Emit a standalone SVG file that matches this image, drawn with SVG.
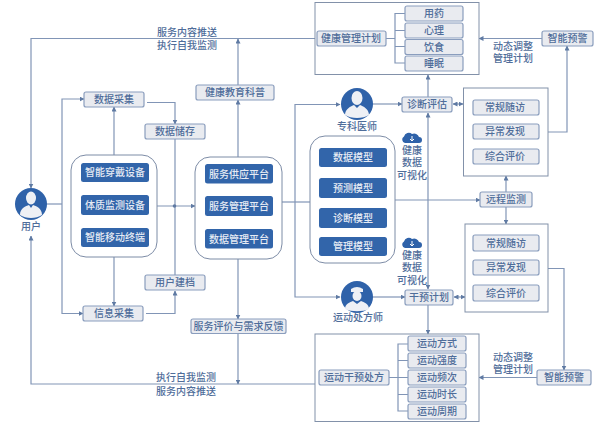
<svg xmlns="http://www.w3.org/2000/svg" width="600" height="426" viewBox="0 0 600 426">
<defs>
<marker id="a" markerWidth="5" markerHeight="5" refX="4.5" refY="2.5" orient="auto-start-reverse" markerUnits="userSpaceOnUse"><path d="M0 0L5 2.5L0 5Z" fill="#5f7aa3"/></marker>
</defs>
<style>
text{font-family:"Liberation Sans","Noto Sans CJK SC",sans-serif;font-size:10px;fill:#4f6d9a;text-anchor:middle;dominant-baseline:central;font-weight:500}
.l{fill:none;stroke:#8195b6;stroke-width:1.2}
.g{fill:#e9ebf0;stroke:#8a9dbd;stroke-width:1.2}
.c{fill:#fff;stroke:#7d8ca6;stroke-width:1}
.f{fill:#fff;stroke:#8291a9;stroke-width:1}
.b{fill:#3265aa}
.w{fill:#e6ebf4}
.i{fill:#2f62a9}
.s{fill:#eef0f5}
</style>
<rect width="600" height="426" fill="#fff"/>
<g id="connectors">
<path class="l" d="M315 38.500H31V188" marker-end="url(#a)"/>
<path class="l" d="M315 384H31V236" marker-end="url(#a)"/>
<path class="l" d="M238 85V39" marker-end="url(#a)"/>
<path class="l" d="M238 157V100" marker-end="url(#a)"/>
<path class="l" d="M238 259V319" marker-end="url(#a)"/>
<path class="l" d="M238 333V384" marker-end="url(#a)"/>
<path class="l" d="M47 204H62"/>
<path class="l" d="M62 204V99H84" marker-end="url(#a)"/>
<path class="l" d="M62 204V313.500H83" marker-end="url(#a)"/>
<path class="l" d="M114 155V107" marker-end="url(#a)"/>
<path class="l" d="M114 257V306" marker-end="url(#a)"/>
<path class="l" d="M147 102.500H175V124" marker-end="url(#a)"/>
<path class="l" d="M175 139V275"/>
<path class="l" d="M146 313.500H175V291" marker-end="url(#a)"/>
<path class="l" d="M157 206H195" marker-end="url(#a)"/>
<circle cx="174.500" cy="206" r="1.800" fill="#5f7aa3"/>
<path class="l" d="M282 202H295"/>
<path class="l" d="M295 202V104.500H340" marker-end="url(#a)"/>
<path class="l" d="M295 202V297H340" marker-end="url(#a)"/>
<path class="l" d="M295 202H310"/>
<path class="l" d="M373 104H402" marker-end="url(#a)"/>
<path class="l" d="M373 297H405" marker-end="url(#a)"/>
<path class="l" d="M428 97V75" marker-end="url(#a)"/>
<path class="l" d="M428 113V289" marker-start="url(#a)" marker-end="url(#a)"/>
<path class="l" d="M428 305V334" marker-end="url(#a)"/>
<path class="l" d="M453 104H463" marker-start="url(#a)" marker-end="url(#a)"/>
<path class="l" d="M454 297H465" marker-start="url(#a)" marker-end="url(#a)"/>
<path class="l" d="M395 200H480" marker-end="url(#a)"/>
<path class="l" d="M506 192V176" marker-end="url(#a)"/>
<path class="l" d="M506 207V224" marker-end="url(#a)"/>
<path class="l" d="M542 38.500H479" marker-end="url(#a)"/>
<path class="l" d="M548 132H567V46" marker-end="url(#a)"/>
<path class="l" d="M537 377.500H479" marker-end="url(#a)"/>
<path class="l" d="M548 268.500H564V370" marker-end="url(#a)"/>
<path class="l" d="M405 13.500H395V63H405M386 38.500H395M395 30.500H405M395 46.500H405"/>
<path class="l" d="M408 344H398V411H408M389 377.500H408M398 360.500H408M398 394.500H408"/>
</g>
<g id="labels">
<text x="187" y="32">服务内容推送</text>
<text x="187" y="45">执行自我监测</text>
<text x="186" y="377">执行自我监测</text>
<text x="186" y="391">服务内容推送</text>
<text x="513" y="46">动态调整</text>
<text x="513" y="58">管理计划</text>
<text x="513" y="357">动态调整</text>
<text x="513" y="369">管理计划</text>
</g>
<g id="user"><circle class="i" cx="31" cy="204" r="16"/><ellipse class="s" cx="31" cy="198" rx="5" ry="6.500"/><path class="s" d="M20 215C20 208 26 206 29 205L31 208L33 205C36 206 42 208 42 215C36 219 26 219 20 215Z"/><text x="31" y="226">用户</text></g>
<g id="data-collect"><rect class="g" x="84" y="92" width="60" height="15" rx="2"/><text x="114" y="99.500">数据采集</text></g>
<g id="data-store"><rect class="g" x="145" y="124" width="60" height="15" rx="2"/><text x="175" y="131.500">数据储存</text></g>
<g id="user-file"><rect class="g" x="145" y="275" width="60" height="15" rx="2"/><text x="175" y="282.500">用户建档</text></g>
<g id="info-collect"><rect class="g" x="83" y="306" width="60" height="15" rx="2"/><text x="114" y="313.500">信息采集</text></g>
<g id="devices">
<rect class="c" x="71" y="155" width="86" height="102" rx="15"/>
<rect class="b" x="81" y="163" width="68" height="19" rx="2.500"/><text class="w" x="115" y="172.500">智能穿戴设备</text>
<rect class="b" x="81" y="195" width="68" height="20" rx="2.500"/><text class="w" x="115" y="205">体质监测设备</text>
<rect class="b" x="81" y="228" width="68" height="19" rx="2.500"/><text class="w" x="115" y="237.500">智能移动终端</text>
</g>
<g id="platforms">
<rect class="c" x="195" y="157" width="87" height="102" rx="15"/>
<rect class="b" x="205" y="164" width="68" height="19.500" rx="2.500"/><text class="w" x="239" y="174">服务供应平台</text>
<rect class="b" x="205" y="196" width="68" height="20" rx="2.500"/><text class="w" x="239" y="206">服务管理平台</text>
<rect class="b" x="205" y="229" width="68" height="19.500" rx="2.500"/><text class="w" x="239" y="239">数据管理平台</text>
</g>
<g id="health-edu"><rect class="g" x="196" y="85" width="78" height="15" rx="2"/><text x="235" y="92.500">健康教育科普</text></g>
<g id="feedback"><rect class="g" x="191" y="319" width="95" height="14.500" rx="2"/><text x="238.500" y="326.500">服务评价与需求反馈</text></g>
<g id="doctor"><circle class="i" cx="357" cy="104" r="16"/><ellipse class="s" cx="357" cy="98" rx="5.500" ry="7"/><path class="s" d="M345 115C345 109 351 106 354 105L357 108L360 105C363 106 369 109 369 115C363 119 351 119 345 115Z"/><text x="357" y="126">专科医师</text></g>
<g id="trainer"><circle class="i" cx="357" cy="297" r="16"/><path class="s" d="M351 289Q357 285 363 289V292H351Z"/><ellipse class="s" cx="357" cy="296" rx="4.500" ry="5"/><path class="s" d="M345 309C345 304 350 302 353 301L357 304L361 301C364 302 369 304 369 309C363 312 351 312 345 309Z"/><text x="358" y="317">运动处方师</text></g>
<g id="models">
<rect class="c" x="310" y="136" width="85" height="127" rx="15"/>
<rect class="b" x="319" y="148" width="68" height="19" rx="2.500"/><text class="w" x="353" y="157.500">数据模型</text>
<rect class="b" x="319" y="178" width="68" height="20" rx="2.500"/><text class="w" x="353" y="188">预测模型</text>
<rect class="b" x="319" y="208" width="68" height="20" rx="2.500"/><text class="w" x="353" y="218">诊断模型</text>
<rect class="b" x="319" y="237" width="68" height="19" rx="2.500"/><text class="w" x="353" y="246.500">管理模型</text>
</g>
<g id="viz-1"><path class="i" d="M405 143A3.500 3.500 0 0 1 404 136.500A5 5 0 0 1 412 134A5 5 0 0 1 419 137A3 3 0 0 1 419 143Z"/><path d="M412 136V141M410 139L412 141L414 139" fill="none" stroke="#fff"/><text x="412" y="150">健康</text><text x="412" y="162">数据</text><text x="412" y="175">可视化</text></g>
<g id="viz-2"><path class="i" d="M405 248A3.500 3.500 0 0 1 404 241.500A5 5 0 0 1 412 239A5 5 0 0 1 419 242A3 3 0 0 1 419 248Z"/><path d="M412 241V246M410 244L412 246L414 244" fill="none" stroke="#fff"/><text x="412" y="255">健康</text><text x="412" y="267">数据</text><text x="412" y="280">可视化</text></g>
<g id="diagnosis"><rect class="g" x="402" y="97" width="50" height="15" rx="2"/><text x="427" y="104.500">诊断评估</text></g>
<g id="intervention"><rect class="g" x="405" y="290" width="48" height="15" rx="2"/><text x="429" y="297.500">干预计划</text></g>
<g id="remote"><rect class="g" x="480" y="192" width="52" height="15" rx="2"/><text x="506" y="199.500">远程监测</text></g>
<g id="eval-1">
<rect class="f" x="463.500" y="88" width="84.500" height="88"/>
<rect class="g" x="473" y="100" width="66" height="15" rx="2"/><text x="505" y="107.500">常规随访</text>
<rect class="g" x="473" y="124" width="66" height="15" rx="2"/><text x="505" y="131.500">异常发现</text>
<rect class="g" x="473" y="149" width="66" height="15" rx="2"/><text x="505" y="156.500">综合评价</text>
</g>
<g id="eval-2">
<rect class="f" x="465" y="224" width="83" height="88"/>
<rect class="g" x="473" y="235" width="66" height="16" rx="2"/><text x="506" y="243">常规随访</text>
<rect class="g" x="473" y="260" width="66" height="15" rx="2"/><text x="506" y="267.500">异常发现</text>
<rect class="g" x="473" y="285" width="66" height="16" rx="2"/><text x="506" y="293">综合评价</text>
</g>
<g id="alert-1"><rect class="g" x="542" y="31" width="51" height="15" rx="2"/><text x="567.500" y="38.500">智能预警</text></g>
<g id="alert-2"><rect class="g" x="537" y="370" width="54" height="15" rx="2"/><text x="564" y="377.500">智能预警</text></g>
<g id="health-plan">
<rect x="315" y="2.500" width="164" height="72" fill="none" stroke="#8291a9"/>
<rect class="g" x="317" y="31" width="69" height="15" rx="2"/><text x="351" y="38.500">健康管理计划</text>
<rect class="g" x="405" y="6" width="58" height="15" rx="2"/><text x="434" y="13.500">用药</text>
<rect class="g" x="405" y="23" width="58" height="15" rx="2"/><text x="434" y="30.500">心理</text>
<rect class="g" x="405" y="39.500" width="58" height="15" rx="2"/><text x="434" y="47">饮食</text>
<rect class="g" x="405" y="56" width="58" height="15" rx="2"/><text x="434" y="63.500">睡眠</text>
</g>
<g id="exercise-plan">
<rect x="315" y="334" width="164" height="87.500" fill="none" stroke="#8291a9"/>
<rect class="g" x="319" y="370" width="70" height="15" rx="2"/><text x="354" y="377.500">运动干预处方</text>
<rect class="g" x="408" y="336" width="58" height="15" rx="2"/><text x="437" y="343.500">运动方式</text>
<rect class="g" x="408" y="353" width="58" height="15" rx="2"/><text x="437" y="360.500">运动强度</text>
<rect class="g" x="408" y="370" width="58" height="15" rx="2"/><text x="437" y="377.500">运动频次</text>
<rect class="g" x="408" y="387" width="58" height="15" rx="2"/><text x="437" y="394.500">运动时长</text>
<rect class="g" x="408" y="404" width="58" height="15" rx="2"/><text x="437" y="411.500">运动周期</text>
</g>
</svg>
